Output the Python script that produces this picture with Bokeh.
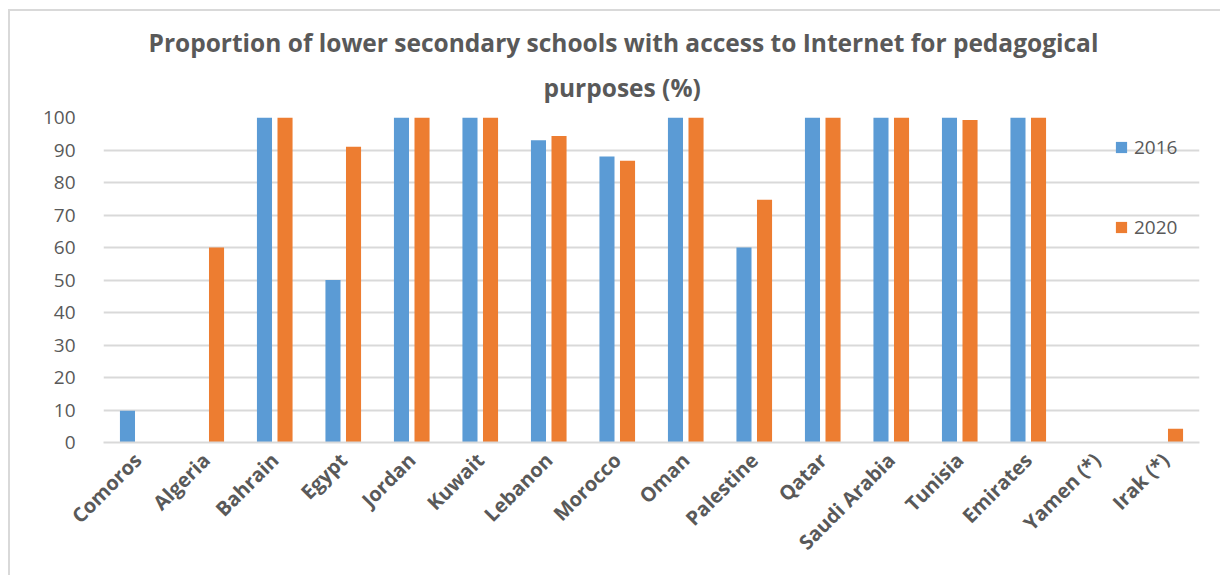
import math
from bokeh.plotting import figure
from bokeh.models import ColumnDataSource, Range1d, Title, Legend, LegendItem
from bokeh.transform import dodge
from bokeh.embed import file_html
from bokeh.resources import INLINE

countries = ["Comoros", "Algeria", "Bahrain", "Egypt", "Jordan", "Kuwait", "Lebanon",
             "Morocco", "Oman", "Palestine", "Qatar", "Saudi Arabia", "Tunisia",
             "Emirates", "Yamen (*)", "Irak (*)"]
nan = float("nan")
values_2016 = [9.8, nan, 100, 50, 100, 100, 93.0, 88.0, 100, 60, 100, 100, 100, 100, nan, nan]
values_2020 = [nan, 60, 100, 91, 100, 100, 94.3, 86.7, 100, 74.7, 100, 100, 99.2, 100, nan, 4.2]
y_ticks = [0, 10, 20, 30, 40, 50, 60, 70, 80, 90, 100]
series_names = ["2016", "2020"]
title_lines = ["Proportion of lower secondary schools with access to Internet for pedagogical",
               "purposes (%)"]

BLUE = "#5B9BD5"
ORANGE = "#ED7D31"
GRAY_TXT = "#595959"
GRID = "#d9d9d9"

source = ColumnDataSource(data=dict(country=countries, v2016=values_2016, v2020=values_2020))

p = figure(width=1212, height=566, x_range=countries, y_range=Range1d(0, 100),
           output_backend="svg", toolbar_location=None,
           min_border_left=93, min_border_right=23, min_border_top=106, min_border_bottom=135,
           margin=(9, 0, 0, 8),
           styles={"border-left": "2px solid #d9d9d9", "border-top": "2px solid #d9d9d9"})
p.outline_line_color = None
p.background_fill_color = "white"
p.border_fill_color = "white"

r1 = p.vbar(x=dodge("country", -0.15, range=p.x_range), top="v2016", width=0.22,
            source=source, color=BLUE, line_color=None)
r2 = p.vbar(x=dodge("country", 0.15, range=p.x_range), top="v2020", width=0.22,
            source=source, color=ORANGE, line_color=None)

# axes
p.yaxis.ticker = y_ticks
p.yaxis.axis_line_color = None
p.yaxis.major_tick_line_color = None
p.yaxis.minor_tick_line_color = None
p.yaxis.major_label_text_font = "Open Sans"
p.yaxis.major_label_text_font_size = "19px"
p.yaxis.major_label_text_color = GRAY_TXT
p.yaxis.major_label_standoff = 22

p.xaxis.axis_line_color = GRID
p.xaxis.axis_line_width = 2
p.xaxis.major_tick_line_color = None
p.xaxis.minor_tick_line_color = None
p.xaxis.major_label_orientation = math.pi / 4
p.xaxis.major_label_text_font = "Open Sans"
p.xaxis.major_label_text_font_style = "bold"
p.xaxis.major_label_text_font_size = "20px"
p.xaxis.major_label_text_color = GRAY_TXT
p.xaxis.major_label_standoff = 8

p.xgrid.grid_line_color = None
p.ygrid.grid_line_color = GRID
p.ygrid.grid_line_width = 1.8

# legend floating over the right end of the plot area
legend = Legend(items=[LegendItem(label=series_names[0], renderers=[r1]),
                       LegendItem(label=series_names[1], renderers=[r2])],
                location=(1011, 202), orientation="vertical")
legend.background_fill_alpha = 0
legend.border_line_color = None
legend.padding = 0
legend.margin = 0
legend.spacing = 54
legend.glyph_width = 14
legend.glyph_height = 14
legend.label_standoff = 6
legend.label_text_font = "Open Sans"
legend.label_text_font_size = "19px"
legend.label_text_color = GRAY_TXT
p.add_layout(legend, "center")

# two-line title, left-aligned with offsets so it sits centred on the chart area
line2 = Title(text=title_lines[1], align="left", offset=440,
              text_font="Open Sans", text_font_style="bold",
              text_font_size="24.5px", text_color=GRAY_TXT,
              vertical_align="top", standoff=24)
line1 = Title(text=title_lines[0], align="left", offset=45,
              text_font="Open Sans", text_font_style="bold",
              text_font_size="24.5px", text_color=GRAY_TXT,
              vertical_align="bottom", standoff=0)
p.add_layout(line2, "above")
p.add_layout(line1, "above")

open("out.html", "w").write(file_html(p, INLINE))
